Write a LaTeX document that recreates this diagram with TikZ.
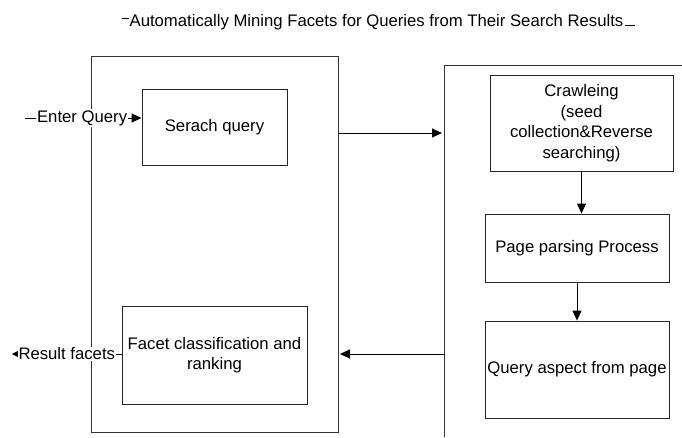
\documentclass[tikz,border=0pt]{standalone}
\usepackage{fontspec}
\setmainfont{Liberation Sans}
\usetikzlibrary{arrows.meta}
\begin{document}
\begin{tikzpicture}[x=1pt,y=-1pt,
  every node/.style={font=\fontsize{16.7}{20.5}\selectfont, text=black},
  box/.style={draw=black!85, line width=0.9pt, align=center, inner sep=2pt},
  frame/.style={draw=black!80, line width=0.9pt},
  arr/.style={draw=black, line width=0.9pt, -{Triangle[length=10pt,width=9pt]}},
  sarr/.style={draw=black, line width=0.9pt, -{Triangle[length=6pt,width=6pt]}},
  lbl/.style={fill=white, inner sep=1pt}]
\useasboundingbox (0,0) rectangle (682,437);
% frames
\draw[frame] (91,56) rectangle (338,432);
\draw[frame] (444,437) -- (444,65) -- (682,65);
% title
\node[inner sep=0pt] (title) at (376.5,22) {Automatically Mining Facets for Queries from Their Search Results};
\draw[line width=0.8pt] ([xshift=-7pt,yshift=4pt]title.west) -- ([yshift=4pt]title.west);
\draw[line width=0.8pt] ([xshift=1pt,yshift=-3pt]title.east) -- ([xshift=11pt,yshift=-3pt]title.east);
% boxes
\node[box, minimum width=145, minimum height=76] (serach) at (214.5,127) {Serach query};
\node[box, minimum width=185, minimum height=98] (facet) at (214.5,355) {Facet classification and\\ranking};
\node[box, minimum width=183, minimum height=96] (crawl) at (581.5,123) {Crawleing\\(seed\\collection\&Reverse\\searching)};
\node[box, minimum width=184, minimum height=68] (page) at (577,248) {Page parsing Process};
\node[box, minimum width=184, minimum height=97] (aspect) at (577,369.5) {Query aspect from page};
% input / output
\coordinate (qin) at (25,118);
\draw[arr] (qin) -- (qin -| serach.west) node[lbl, pos=0.49] (enter) {Enter Query};
\coordinate (rout) at (12,354);
\draw[sarr] (facet.west |- rout) -- (rout) node[lbl, pos=0.5] (result) {Result facets};
% middle arrows
\coordinate (m1s) at (339,133);
\coordinate (m1e) at (442,133);
\draw[arr] (m1s) -- (m1e);
\coordinate (m2s) at (445,354);
\coordinate (m2e) at (340,354);
\draw[arr] (m2s) -- (m2e);
% vertical arrows
\draw[arr] (crawl.south) -- (crawl.south |- page.north);
\draw[arr] (page.south) -- (aspect.north);
\end{tikzpicture}
\end{document}
